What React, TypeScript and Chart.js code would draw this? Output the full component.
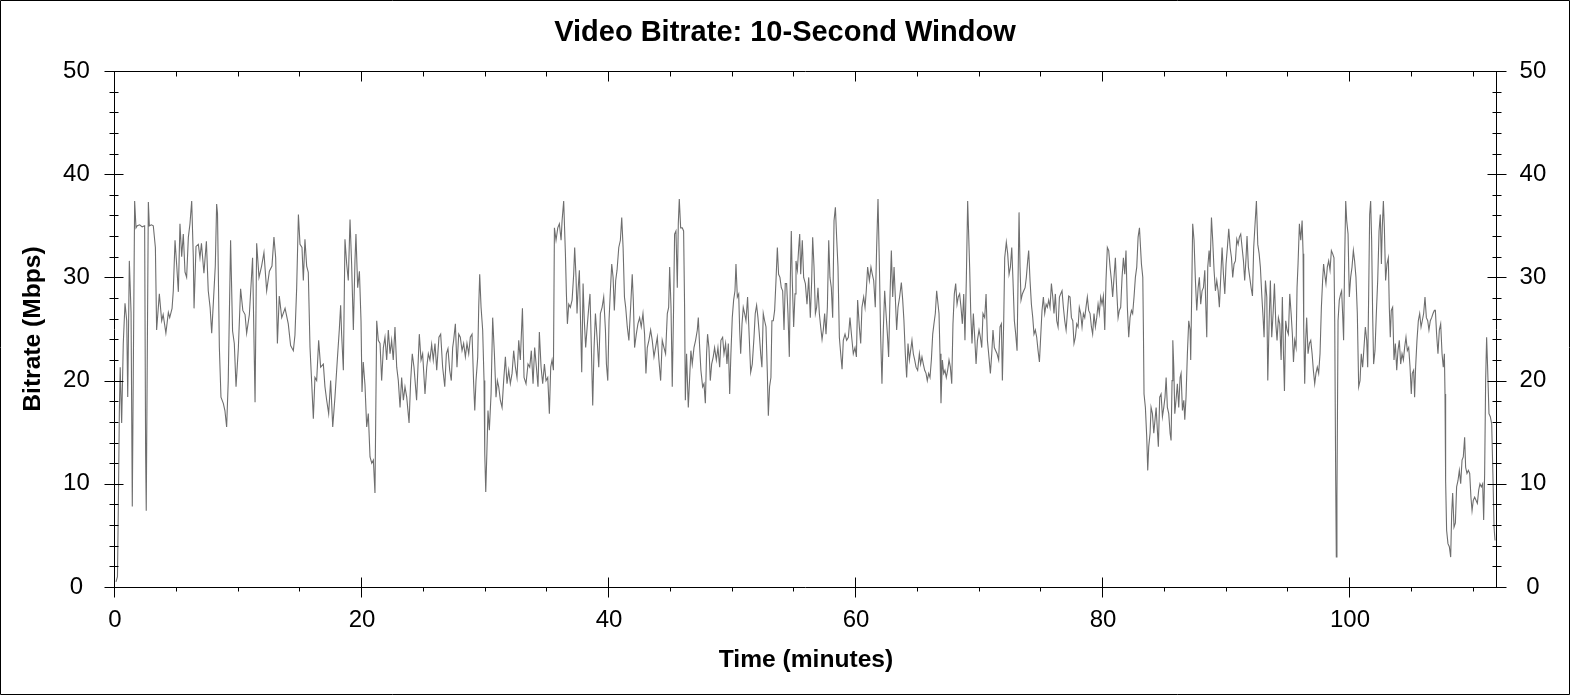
import React, { useEffect, useRef } from "react";
import { Chart, registerables } from "chart.js";

Chart.register(...registerables);

const FONT = "Arial, 'Liberation Sans', Helvetica, sans-serif";

const chartTitle = "Video Bitrate: 10-Second Window";
const xAxisTitle = "Time (minutes)";
const yAxisTitle = "Bitrate (Mbps)";

const xMin = 0;
const xMax = 111.9;
const xMajorStep = 20;
const xMinorStep = 5;
const yMin = 0;
const yMax = 50;
const yMajorStep = 10;
const yMinorStep = 2;

// [minute, Mbps] samples
const minutes00to14: number[][] = [
  [0.08, 0.5], [0.2, 1.0], [0.27, 7.6], [0.35, 16.8], [0.42, 21.3], [0.54, 15.9], [0.67, 23.6], [0.81, 27.5],
  [0.95, 25.8], [1.03, 18.4], [1.16, 31.6], [1.3, 26.6], [1.4, 7.8], [1.48, 20.7], [1.59, 37.4], [1.7, 34.8],
  [1.8, 35.0], [2.0, 35.1], [2.2, 34.9], [2.4, 35.0], [2.48, 12.9], [2.53, 7.4], [2.6, 20.0], [2.7, 37.3],
  [2.78, 35.0], [2.95, 35.1], [3.1, 35.0], [3.27, 32.9], [3.37, 24.9], [3.59, 28.4], [3.78, 25.8], [3.9, 26.4],
  [4.12, 24.6], [4.32, 26.6], [4.43, 26.1], [4.62, 27.0], [4.72, 28.7], [4.86, 33.6], [5.0, 31.1], [5.13, 28.6],
  [5.26, 35.2], [5.4, 32.0], [5.53, 34.2], [5.67, 30.5], [5.8, 30.0], [5.94, 33.9], [6.07, 35.2], [6.21, 37.4],
  [6.34, 32.0], [6.4, 27.0], [6.56, 33.0], [6.75, 33.2], [6.88, 31.9], [7.0, 33.3], [7.2, 30.4], [7.4, 33.5],
  [7.55, 28.7], [7.7, 27.1], [7.83, 24.6], [7.97, 27.7], [8.12, 31.1], [8.23, 37.1], [8.3, 36.2], [8.45, 23.2],
  [8.58, 18.4], [8.77, 17.8], [8.9, 17.1], [9.04, 15.5], [9.17, 20.0], [9.36, 33.6], [9.52, 24.8], [9.66, 23.6],
  [9.8, 19.4], [9.99, 23.2], [10.17, 28.9], [10.35, 26.8], [10.53, 26.4], [10.66, 24.6], [10.88, 26.4], [11.14, 31.9],
  [11.34, 17.9], [11.47, 33.3], [11.66, 30.0], [11.87, 31.1], [12.06, 32.4], [12.28, 28.7], [12.5, 30.6], [12.71, 31.1],
  [12.87, 33.9], [13.01, 31.9], [13.15, 23.6], [13.3, 28.2], [13.5, 26.1], [13.77, 27.0],
];

const minutes14to27: number[][] = [
  [14.03, 25.5], [14.22, 23.4], [14.44, 22.9], [14.57, 24.4], [14.71, 29.0], [14.85, 36.1], [14.98, 33.2], [15.14, 32.9],
  [15.25, 29.7], [15.38, 33.7], [15.52, 31.1], [15.65, 30.5], [15.79, 23.2], [15.93, 19.7], [16.06, 16.3], [16.19, 20.3],
  [16.33, 20.0], [16.49, 23.9], [16.65, 21.3], [16.87, 21.6], [17.0, 19.4], [17.14, 18.1], [17.3, 16.8], [17.46, 20.0],
  [17.63, 15.5], [17.81, 18.4], [18.0, 22.0], [18.16, 24.9], [18.27, 27.3], [18.35, 24.5], [18.49, 21.0], [18.62, 33.7],
  [18.76, 31.3], [18.89, 29.7], [19.03, 35.6], [19.16, 31.3], [19.3, 24.9], [19.43, 31.6], [19.51, 34.2], [19.65, 29.0],
  [19.79, 30.6], [19.92, 25.8], [20.0, 18.9], [20.1, 21.8], [20.24, 19.6], [20.38, 15.5], [20.51, 16.8], [20.65, 12.6],
  [20.79, 12.0], [20.92, 12.3], [21.05, 9.1], [21.19, 25.8], [21.32, 23.9], [21.46, 23.6], [21.59, 20.0], [21.73, 23.2],
  [21.86, 24.2], [22.0, 22.0], [22.13, 24.9], [22.27, 22.6], [22.4, 23.9], [22.53, 22.0], [22.67, 25.2], [22.81, 21.3],
  [22.94, 20.0], [23.08, 17.4], [23.21, 20.3], [23.35, 18.1], [23.48, 19.4], [23.62, 18.4], [23.81, 15.9], [23.94, 20.0],
  [24.07, 22.6], [24.21, 21.3], [24.42, 18.1], [24.53, 21.3], [24.64, 24.5], [24.78, 22.0], [24.91, 22.6], [25.1, 18.7],
  [25.24, 21.3], [25.37, 22.6], [25.5, 22.0], [25.64, 23.5], [25.77, 22.0], [25.91, 23.6], [26.05, 21.0], [26.23, 24.2],
  [26.37, 24.5], [26.53, 21.3], [26.7, 19.4], [26.83, 22.6], [26.96, 23.1], [27.1, 21.0], [27.23, 20.0], [27.34, 23.2],
];

const minutes27to41: number[][] = [
  [27.42, 23.9], [27.56, 25.5], [27.69, 21.3], [27.83, 24.5], [27.96, 24.2], [28.1, 22.9], [28.23, 23.6], [28.37, 22.3],
  [28.5, 23.6], [28.64, 22.6], [28.77, 24.2], [28.91, 24.5], [29.04, 19.7], [29.13, 17.1], [29.23, 20.0], [29.37, 22.3],
  [29.45, 27.1], [29.53, 30.3], [29.64, 27.1], [29.77, 24.9], [29.88, 20.0], [29.94, 12.9], [30.02, 9.2], [30.1, 12.6],
  [30.2, 17.1], [30.31, 15.2], [30.45, 18.7], [30.58, 26.1], [30.72, 22.6], [30.85, 18.4], [30.96, 20.0], [31.07, 19.4],
  [31.2, 18.1], [31.34, 17.4], [31.47, 20.0], [31.61, 22.3], [31.74, 19.7], [31.88, 21.0], [32.01, 19.7], [32.15, 20.7],
  [32.28, 22.9], [32.42, 21.3], [32.55, 20.3], [32.69, 23.9], [32.82, 22.0], [32.99, 27.0], [33.12, 20.3], [33.28, 19.7],
  [33.44, 21.6], [33.58, 21.3], [33.71, 22.9], [33.85, 19.7], [33.98, 23.2], [34.12, 21.3], [34.25, 19.4], [34.36, 24.7],
  [34.5, 21.3], [34.63, 19.7], [34.77, 21.6], [34.9, 20.0], [35.04, 20.3], [35.17, 16.8], [35.28, 21.3], [35.39, 22.0],
  [35.5, 21.0], [35.58, 34.8], [35.71, 33.6], [35.85, 34.8], [35.98, 35.2], [36.12, 33.6], [36.2, 35.5], [36.33, 37.4],
  [36.47, 32.3], [36.55, 28.4], [36.63, 25.5], [36.74, 27.4], [36.87, 27.1], [37.01, 27.8], [37.14, 30.3], [37.22, 32.9],
  [37.33, 30.0], [37.41, 26.5], [37.49, 28.7], [37.6, 30.7], [37.71, 24.9], [37.79, 20.8], [37.9, 29.4], [38.0, 25.8],
  [38.11, 23.2], [38.25, 25.5], [38.36, 27.1], [38.46, 28.4], [38.57, 23.2], [38.68, 17.6], [38.79, 23.2], [38.9, 26.5],
  [39.03, 24.2], [39.17, 21.3], [39.3, 26.5], [39.44, 27.1], [39.57, 28.1], [39.71, 24.9], [39.79, 21.6], [39.9, 20.0],
  [40.0, 25.8], [40.11, 28.7], [40.22, 31.3], [40.33, 30.0], [40.43, 26.8], [40.54, 29.7], [40.65, 30.7], [40.79, 32.9],
  [40.92, 33.6], [41.03, 35.8], [41.14, 32.9],
];

const minutes41to55: number[][] = [
  [41.25, 28.1], [41.35, 27.1], [41.48, 25.2], [41.61, 23.9], [41.75, 27.1], [41.88, 30.3], [41.97, 27.7], [42.07, 23.2],
  [42.21, 24.5], [42.34, 25.5], [42.48, 26.1], [42.61, 25.2], [42.75, 26.5], [42.88, 24.5], [42.99, 20.7], [43.1, 23.2],
  [43.23, 23.9], [43.37, 24.9], [43.5, 23.9], [43.64, 22.3], [43.77, 23.2], [43.91, 24.2], [44.04, 22.0], [44.18, 20.0],
  [44.31, 23.9], [44.45, 23.2], [44.58, 22.6], [44.72, 26.5], [44.83, 27.1], [44.91, 31.0], [45.02, 27.1], [45.12, 19.4],
  [45.23, 27.1], [45.31, 34.2], [45.42, 34.5], [45.53, 29.0], [45.61, 35.2], [45.69, 37.6], [45.8, 34.8], [45.93, 34.8],
  [46.04, 34.5], [46.12, 27.1], [46.18, 18.1], [46.28, 22.6], [46.42, 17.4], [46.53, 20.3], [46.63, 22.9], [46.74, 21.6],
  [46.88, 23.2], [47.01, 23.9], [47.15, 24.9], [47.23, 26.1], [47.34, 23.2], [47.44, 21.0], [47.58, 19.4], [47.69, 19.7],
  [47.8, 17.8], [47.9, 22.6], [47.98, 24.5], [48.09, 23.2], [48.2, 20.0], [48.31, 21.6], [48.44, 22.3], [48.55, 23.2],
  [48.69, 22.0], [48.82, 23.2], [48.96, 21.3], [49.06, 23.9], [49.2, 24.2], [49.31, 22.6], [49.44, 23.6], [49.55, 21.6],
  [49.66, 23.6], [49.77, 18.7], [49.87, 22.6], [49.98, 26.1], [50.09, 27.8], [50.2, 28.7], [50.28, 31.3], [50.39, 28.1],
  [50.5, 28.4], [50.58, 24.9], [50.66, 22.6], [50.77, 25.5], [50.87, 27.1], [50.98, 26.5], [51.09, 25.8], [51.22, 28.1],
  [51.33, 24.9], [51.47, 20.8], [51.6, 21.6], [51.74, 24.2], [51.84, 26.5], [51.95, 27.3], [52.06, 26.1], [52.17, 24.5],
  [52.28, 22.6], [52.38, 21.3], [52.49, 26.5], [52.6, 25.8], [52.71, 25.2], [52.82, 20.7], [52.9, 16.6], [53.0, 19.4],
  [53.11, 20.3], [53.19, 25.8], [53.3, 25.8], [53.41, 26.8], [53.52, 29.7], [53.63, 32.9], [53.73, 30.3], [53.84, 30.0],
  [53.95, 29.0], [54.06, 28.7], [54.17, 24.9], [54.27, 29.4], [54.38, 29.4], [54.49, 26.5], [54.6, 22.3], [54.68, 29.7],
  [54.76, 34.5], [54.84, 29.7], [54.95, 25.2], [55.06, 28.4],
];

const minutes55to69: number[][] = [
  [55.14, 31.6], [55.25, 30.7], [55.36, 32.9], [55.44, 34.2], [55.52, 30.3], [55.65, 33.6], [55.76, 30.0], [55.9, 29.4],
  [56.03, 27.4], [56.17, 30.0], [56.3, 26.1], [56.41, 29.7], [56.49, 33.9], [56.6, 31.0], [56.71, 26.5], [56.81, 27.1],
  [56.92, 29.0], [57.03, 26.5], [57.14, 25.2], [57.25, 24.0], [57.35, 24.9], [57.46, 26.5], [57.57, 24.5], [57.68, 27.1],
  [57.79, 33.6], [57.89, 30.0], [58.0, 29.0], [58.11, 26.1], [58.22, 35.5], [58.33, 36.8], [58.43, 33.9], [58.54, 31.0],
  [58.65, 24.2], [58.76, 22.6], [58.87, 21.1], [58.97, 23.9], [59.11, 24.5], [59.24, 23.9], [59.38, 24.2], [59.51, 26.1],
  [59.65, 24.2], [59.78, 22.6], [59.92, 23.2], [60.03, 22.3], [60.13, 27.8], [60.27, 25.2], [60.38, 23.6], [60.48, 27.1],
  [60.62, 28.1], [60.73, 27.1], [60.83, 28.7], [60.94, 31.0], [61.08, 29.7], [61.21, 31.0], [61.32, 30.3], [61.43, 29.7],
  [61.56, 27.1], [61.67, 32.9], [61.78, 37.6], [61.89, 31.3], [61.99, 24.5], [62.1, 19.7], [62.21, 24.9], [62.32, 28.7],
  [62.43, 26.5], [62.54, 24.5], [62.64, 22.3], [62.75, 28.1], [62.86, 32.6], [62.97, 28.1], [63.08, 31.0], [63.18, 28.1],
  [63.29, 24.9], [63.4, 27.1], [63.53, 28.1], [63.67, 29.5], [63.78, 27.8], [63.88, 25.8], [63.99, 22.6], [64.1, 20.3],
  [64.21, 23.6], [64.32, 22.0], [64.42, 22.9], [64.53, 23.9], [64.64, 22.6], [64.75, 22.0], [64.86, 21.3], [64.99, 21.0],
  [65.13, 22.6], [65.23, 21.6], [65.34, 22.3], [65.45, 21.6], [65.56, 21.0], [65.67, 20.7], [65.77, 20.0], [65.88, 20.7],
  [65.99, 20.3], [66.1, 22.0], [66.21, 24.5], [66.31, 25.5], [66.42, 26.5], [66.53, 28.7], [66.64, 27.4], [66.72, 26.5],
  [66.8, 22.6], [66.88, 17.8], [66.99, 22.0], [67.1, 20.7], [67.2, 21.0], [67.31, 20.3], [67.42, 21.0], [67.53, 22.0],
  [67.64, 21.3], [67.75, 19.7], [67.85, 25.5], [67.96, 28.4], [68.07, 29.4], [68.18, 27.4], [68.28, 28.1], [68.39, 28.4],
  [68.5, 27.1], [68.61, 25.5], [68.72, 28.4], [68.82, 23.9], [68.93, 29.7], [69.04, 37.4],
];

const minutes69to83: number[][] = [
  [69.2, 31.0], [69.29, 26.5], [69.39, 23.6], [69.5, 26.5], [69.61, 24.2], [69.72, 21.6], [69.83, 23.9], [69.96, 24.9],
  [70.07, 24.2], [70.18, 23.2], [70.28, 26.5], [70.42, 26.1], [70.53, 28.4], [70.64, 23.9], [70.74, 22.6], [70.88, 20.7],
  [70.99, 22.6], [71.09, 24.9], [71.2, 23.2], [71.31, 22.9], [71.42, 22.6], [71.55, 22.0], [71.66, 25.2], [71.77, 25.5],
  [71.85, 20.0], [71.96, 25.8], [72.04, 31.9], [72.17, 33.4], [72.28, 32.3], [72.39, 30.3], [72.5, 31.0], [72.61, 32.9],
  [72.71, 29.7], [72.82, 25.8], [72.93, 24.5], [73.04, 22.9], [73.12, 29.7], [73.2, 36.3], [73.28, 31.0], [73.36, 27.8],
  [73.47, 28.4], [73.58, 28.7], [73.69, 29.0], [73.79, 30.0], [73.9, 31.6], [73.98, 32.6], [74.09, 29.7], [74.2, 27.4],
  [74.31, 26.1], [74.41, 24.5], [74.52, 24.9], [74.63, 24.2], [74.74, 22.9], [74.85, 21.8], [74.95, 24.2], [75.06, 26.8],
  [75.17, 28.1], [75.28, 26.5], [75.39, 27.4], [75.49, 27.1], [75.6, 27.8], [75.71, 27.1], [75.82, 29.4], [75.93, 28.1],
  [76.03, 26.5], [76.14, 28.4], [76.25, 25.8], [76.36, 25.2], [76.47, 28.1], [76.57, 28.4], [76.68, 28.7], [76.79, 27.1],
  [76.9, 25.8], [77.01, 24.9], [77.11, 26.5], [77.22, 28.2], [77.33, 28.1], [77.44, 26.1], [77.55, 25.8], [77.65, 23.6],
  [77.76, 24.2], [77.87, 25.5], [77.98, 25.2], [78.08, 27.1], [78.19, 26.5], [78.3, 25.2], [78.41, 26.5], [78.52, 26.1],
  [78.62, 27.1], [78.73, 28.1], [78.84, 26.8], [78.95, 26.5], [79.06, 25.2], [79.16, 24.5], [79.27, 26.5], [79.38, 25.2],
  [79.49, 26.1], [79.6, 27.4], [79.7, 26.5], [79.81, 28.1], [79.92, 27.4], [80.03, 28.2], [80.14, 24.9], [80.24, 29.7],
  [80.35, 32.9], [80.46, 32.6], [80.57, 31.0], [80.68, 29.7], [80.78, 28.1], [80.89, 30.0], [81.0, 31.9], [81.11, 28.7],
  [81.22, 26.1], [81.32, 26.8], [81.43, 27.1], [81.54, 30.0], [81.65, 31.9], [81.76, 30.3], [81.86, 32.6], [81.97, 27.1],
  [82.08, 24.2], [82.19, 26.1], [82.3, 26.8], [82.4, 26.5], [82.51, 28.1], [82.62, 30.0], [82.73, 31.0], [82.84, 33.9],
  [82.95, 34.8],
];

const minutes83to97: number[][] = [
  [83.11, 31.3], [83.22, 30.0], [83.27, 24.9], [83.32, 18.7], [83.43, 17.4], [83.54, 14.5], [83.62, 11.3], [83.7, 13.6],
  [83.81, 14.9], [83.89, 17.4], [84.0, 16.8], [84.11, 14.9], [84.21, 16.2], [84.3, 17.4], [84.4, 15.2], [84.48, 13.6],
  [84.59, 18.4], [84.7, 18.7], [84.81, 16.5], [84.92, 17.4], [85.02, 18.4], [85.11, 20.3], [85.21, 17.4], [85.32, 16.8],
  [85.43, 14.9], [85.51, 14.2], [85.59, 20.0], [85.65, 23.9], [85.73, 21.3], [85.81, 16.8], [85.91, 18.1], [86.02, 19.7],
  [86.13, 17.4], [86.24, 20.3], [86.32, 20.7], [86.43, 17.1], [86.54, 18.1], [86.62, 16.2], [86.72, 18.4], [86.83, 22.6],
  [86.94, 25.8], [87.05, 24.9], [87.1, 22.0], [87.18, 28.4], [87.26, 35.2], [87.37, 33.6], [87.48, 29.7], [87.59, 26.8],
  [87.7, 29.0], [87.8, 30.0], [87.91, 27.4], [88.02, 28.7], [88.13, 29.0], [88.24, 30.7], [88.34, 26.5], [88.4, 24.2],
  [88.48, 31.0], [88.59, 32.6], [88.67, 31.0], [88.78, 35.8], [88.88, 33.6], [88.99, 30.7], [89.1, 28.7], [89.21, 29.7],
  [89.32, 28.7], [89.42, 27.1], [89.53, 30.0], [89.64, 32.9], [89.75, 30.3], [89.86, 28.4], [89.96, 31.3], [90.07, 32.9],
  [90.18, 34.7], [90.29, 32.9], [90.4, 31.9], [90.5, 30.0], [90.61, 31.3], [90.72, 31.6], [90.83, 33.7], [90.94, 33.2],
  [91.04, 33.9], [91.15, 34.2], [91.26, 32.9], [91.37, 31.6], [91.47, 29.7], [91.58, 31.9], [91.66, 34.0], [91.77, 31.0],
  [91.88, 30.0], [91.99, 29.0], [92.1, 28.2], [92.2, 32.9], [92.31, 35.2], [92.42, 37.4], [92.53, 33.2], [92.64, 32.3],
  [92.74, 31.0], [92.85, 28.4], [92.96, 26.1], [93.04, 24.2], [93.15, 29.7], [93.26, 28.1], [93.34, 20.0], [93.45, 25.8],
  [93.55, 29.7], [93.66, 24.2], [93.77, 26.5], [93.88, 29.4], [93.99, 25.5], [94.09, 23.9], [94.2, 26.1], [94.31, 25.5],
  [94.42, 22.0], [94.52, 28.1], [94.61, 22.6], [94.69, 19.0], [94.79, 25.8], [94.9, 24.9], [95.01, 24.5], [95.12, 28.4],
  [95.23, 26.5], [95.33, 24.5], [95.42, 21.8], [95.52, 23.9], [95.63, 23.2], [95.71, 29.0], [95.79, 31.3], [95.9, 35.2],
  [96.01, 33.6], [96.12, 35.5], [96.2, 32.3], [96.25, 25.2], [96.33, 19.7], [96.41, 23.9], [96.49, 26.1], [96.6, 22.6],
  [96.71, 23.6], [96.82, 23.9], [96.93, 22.6],
];

const minutes97to112: number[][] = [
  [97.03, 21.0], [97.14, 19.7], [97.24, 20.7], [97.35, 21.3], [97.46, 20.7], [97.57, 22.6], [97.68, 27.1], [97.78, 29.7],
  [97.86, 31.3], [97.95, 30.3], [98.05, 29.4], [98.16, 31.0], [98.27, 31.6], [98.38, 30.7], [98.49, 32.6], [98.59, 32.3],
  [98.7, 31.9], [98.76, 25.8], [98.84, 10.3], [98.89, 2.9], [98.94, 8.7], [99.03, 25.8], [99.13, 27.8], [99.24, 28.4],
  [99.32, 28.7], [99.4, 26.5], [99.48, 23.9], [99.56, 31.3], [99.65, 37.4], [99.73, 35.5], [99.84, 34.2], [99.94, 28.1],
  [100.05, 30.0], [100.16, 31.0], [100.27, 32.6], [100.37, 31.6], [100.48, 30.0], [100.59, 26.5], [100.7, 19.4], [100.81, 20.0],
  [100.91, 22.6], [101.02, 21.3], [101.13, 23.2], [101.24, 25.2], [101.35, 23.9], [101.43, 21.3], [101.51, 28.4], [101.59, 36.1],
  [101.67, 37.4], [101.75, 33.6], [101.83, 26.5], [101.91, 21.6], [102.02, 22.9], [102.13, 26.5], [102.24, 29.7], [102.35, 34.5],
  [102.45, 36.1], [102.54, 31.3], [102.61, 34.8], [102.7, 37.4], [102.78, 34.8], [102.88, 29.7], [102.99, 31.3], [103.1, 31.9],
  [103.18, 27.1], [103.26, 24.2], [103.34, 26.8], [103.45, 27.1], [103.56, 22.0], [103.67, 23.6], [103.78, 21.0], [103.88, 22.9],
  [103.99, 23.9], [104.1, 21.6], [104.21, 22.6], [104.32, 22.0], [104.42, 23.2], [104.53, 24.2], [104.64, 22.9], [104.75, 23.2],
  [104.86, 21.3], [104.96, 18.7], [105.04, 20.7], [105.15, 21.0], [105.23, 18.4], [105.31, 21.3], [105.42, 23.9], [105.53, 25.8],
  [105.64, 26.5], [105.75, 25.2], [105.85, 25.8], [105.96, 26.5], [106.07, 28.1], [106.18, 26.1], [106.29, 25.8], [106.39, 24.9],
  [106.5, 25.8], [106.61, 26.1], [106.72, 26.5], [106.83, 26.8], [106.91, 26.8], [107.01, 24.5], [107.12, 22.6], [107.23, 24.9],
  [107.34, 25.5], [107.45, 22.6], [107.55, 21.3], [107.64, 22.6], [107.69, 18.7], [107.74, 10.3], [107.82, 5.5], [107.93, 4.2],
  [108.04, 3.9], [108.15, 2.9], [108.23, 7.1], [108.31, 9.1], [108.42, 5.8], [108.53, 6.2], [108.63, 9.7], [108.74, 10.3],
  [108.85, 11.3], [108.96, 10.0], [109.07, 12.3], [109.17, 12.6], [109.28, 14.5], [109.36, 11.6], [109.47, 11.0], [109.58, 11.3],
  [109.69, 11.0], [109.79, 8.7], [109.88, 7.4], [109.98, 8.4], [110.09, 8.7], [110.2, 8.4], [110.31, 8.1], [110.42, 9.4],
  [110.52, 10.0], [110.63, 9.7], [110.74, 10.0], [110.82, 6.5], [110.9, 11.0], [110.98, 20.0], [111.06, 24.2], [111.14, 21.3],
  [111.25, 16.8], [111.36, 16.5], [111.47, 15.8], [111.58, 10.3], [111.66, 5.8], [111.74, 4.5],
];

const allSamples = [
  ...minutes00to14,
  ...minutes14to27,
  ...minutes27to41,
  ...minutes41to55,
  ...minutes55to69,
  ...minutes69to83,
  ...minutes83to97,
  ...minutes97to112,
];

const framePlugin = {
  id: "frameTicks",
  afterDraw(chart: any) {
    const { ctx, chartArea: a, scales } = chart;
    const xs = scales.x;
    const ys = scales.y;
    const L = Math.round(a.left) - 0.5;
    const R = Math.round(a.right) - 0.5;
    const T = Math.round(a.top) + 0.5;
    const B = Math.round(a.bottom) + 0.5;
    ctx.save();
    ctx.strokeStyle = "#000";
    ctx.lineWidth = 1;
    ctx.beginPath();
    ctx.rect(0.5, 0.5, chart.width - 1, chart.height - 1);
    ctx.rect(L, T, R - L, B - T);
    const nY = Math.round((yMax - yMin) / yMinorStep);
    for (let i = 0; i <= nY; i++) {
      const v = yMin + i * yMinorStep;
      const major = Math.abs(v / yMajorStep - Math.round(v / yMajorStep)) < 1e-6;
      const y = Math.round(ys.getPixelForValue(v)) + 0.5;
      const out = major ? 10 : 5;
      const inn = major ? 9 : 4;
      ctx.moveTo(L - out, y);
      ctx.lineTo(L + inn, y);
      ctx.moveTo(R - inn, y);
      ctx.lineTo(R + out, y);
    }
    const nX = Math.floor((xMax - xMin) / xMinorStep + 1e-9);
    for (let i = 0; i <= nX; i++) {
      const v = xMin + i * xMinorStep;
      const major = Math.abs(v / xMajorStep - Math.round(v / xMajorStep)) < 1e-6;
      const x = Math.round(xs.getPixelForValue(v)) - 0.5;
      if (major) {
        ctx.moveTo(x, T);
        ctx.lineTo(x, T + 10);
        ctx.moveTo(x, B - 10);
        ctx.lineTo(x, B + 10);
      } else {
        ctx.moveTo(x, T);
        ctx.lineTo(x, T + 5);
        ctx.moveTo(x, B);
        ctx.lineTo(x, B + 4);
      }
    }
    ctx.stroke();
    ctx.restore();
  },
};

export default function App() {
  const canvasRef = useRef<HTMLCanvasElement | null>(null);

  useEffect(() => {
    const canvas = canvasRef.current;
    if (!canvas) return;
    const points = allSamples.map(([x, y]) => ({ x, y }));
    const tickFont = { family: FONT, size: 24 };
    const axisTitleFont = { family: FONT, size: 24.6, weight: "bold" as const };
    const chart = new Chart(canvas, {
      type: "line",
      data: {
        datasets: [
          {
            data: points,
            borderColor: "#6e6e6e",
            borderWidth: 1.1,
            pointRadius: 0,
            pointHoverRadius: 0,
            fill: false,
            tension: 0,
            xAxisID: "x",
            yAxisID: "y",
          },
        ],
      },
      options: {
        responsive: false,
        animation: false,
        devicePixelRatio: 1,
        parsing: false,
        normalized: true,
        events: [],
        layout: { padding: 0 },
        plugins: {
          legend: { display: false },
          tooltip: { enabled: false },
          title: {
            display: true,
            text: chartTitle,
            color: "#000",
            font: { family: FONT, size: 29, weight: "bold" },
            padding: { top: 16, bottom: 20.2 },
          },
        },
        scales: {
          x: {
            type: "linear",
            position: "bottom",
            min: xMin,
            max: xMax,
            grid: { display: false, drawTicks: false, tickLength: 0 },
            border: { display: false },
            ticks: {
              stepSize: xMajorStep,
              includeBounds: false,
              maxRotation: 0,
              autoSkip: false,
              color: "#000",
              font: tickFont,
              padding: 18.6,
            },
            title: {
              display: true,
              text: xAxisTitle,
              color: "#000",
              font: axisTitleFont,
              padding: { top: 0, bottom: 20 },
            },
            afterFit: (s: any) => {
              s.height = 108;
            },
          },
          y: {
            type: "linear",
            position: "left",
            min: yMin,
            max: yMax,
            grid: { display: false, drawTicks: false, tickLength: 0 },
            border: { display: false },
            ticks: {
              stepSize: yMajorStep,
              crossAlign: "center",
              color: "#000",
              font: tickFont,
              padding: 25.2,
            },
            title: {
              display: true,
              text: yAxisTitle,
              color: "#000",
              font: axisTitleFont,
              padding: { top: 18, bottom: 0 },
            },
            afterFit: (s: any) => {
              s.width = 115;
            },
          },
          y2: {
            type: "linear",
            position: "right",
            min: yMin,
            max: yMax,
            grid: { display: false, drawTicks: false, tickLength: 0 },
            border: { display: false },
            ticks: {
              stepSize: yMajorStep,
              crossAlign: "center",
              color: "#000",
              font: tickFont,
              padding: 22.6,
            },
            afterFit: (s: any) => {
              s.width = 73;
            },
          },
        },
      },
      plugins: [framePlugin],
    } as any);
    return () => {
      chart.destroy();
    };
  }, []);

  return (
    <div style={{ position: "absolute", left: 0, top: 0, width: 1570, height: 695, background: "#fff" }}>
      <canvas ref={canvasRef} width={1570} height={695} style={{ width: 1570, height: 695, display: "block" }} />
    </div>
  );
}
